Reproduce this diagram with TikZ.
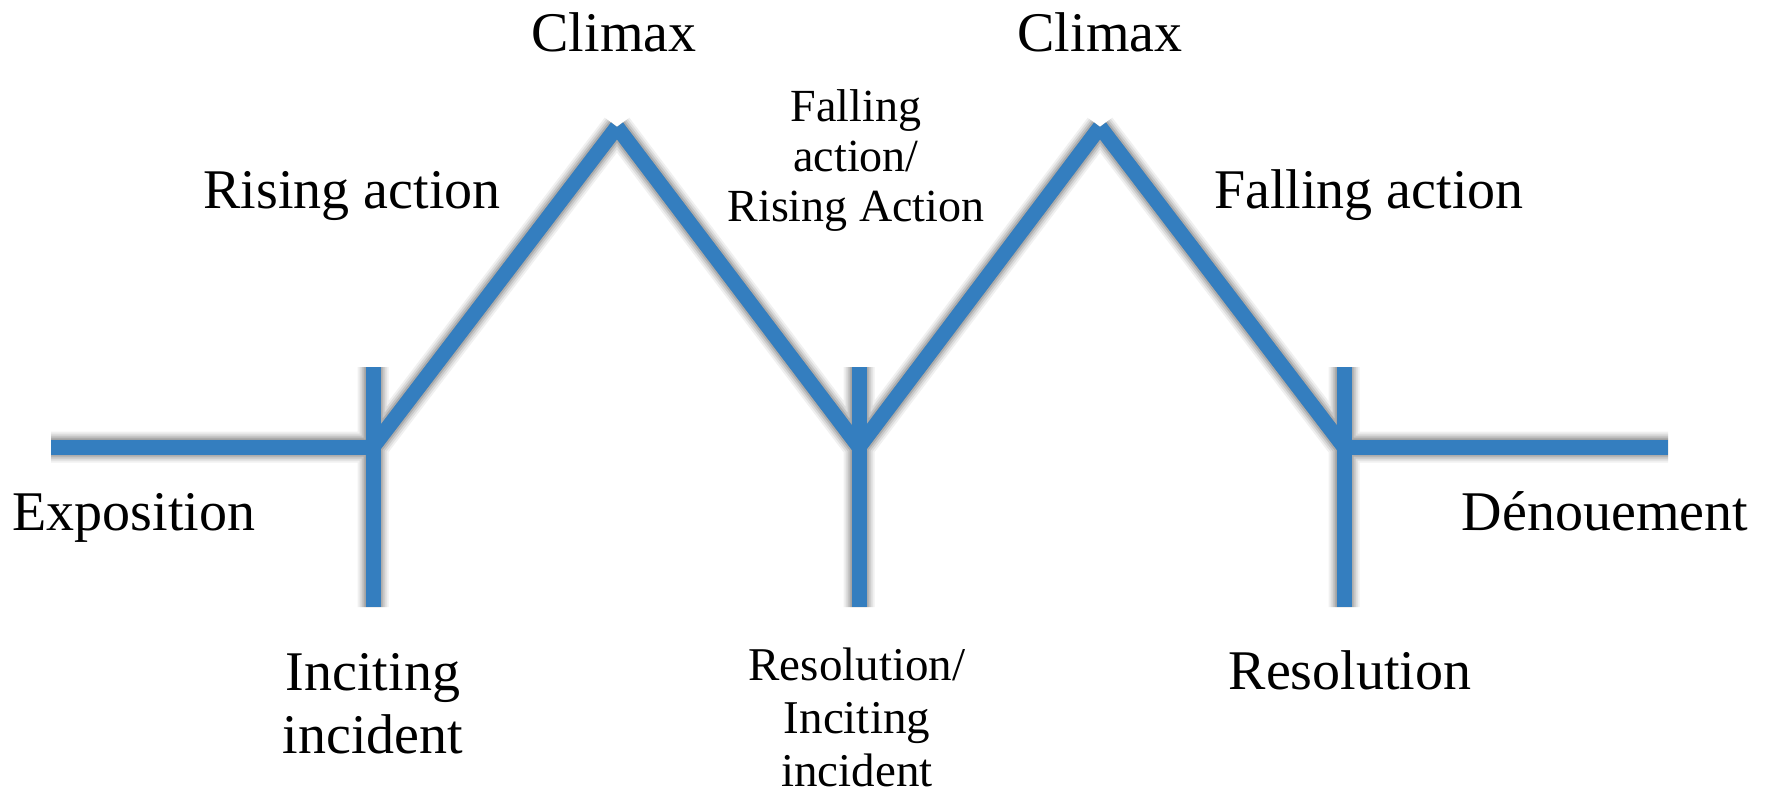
\documentclass[tikz,border=0pt]{standalone}
\usepackage{fontspec}
\setmainfont{Liberation Serif}
\definecolor{arcblue}{RGB}{52,126,191}
\newcommand{\stk}[2]{\vtop{\baselineskip=#1\lineskiplimit=-100pt\lineskip=0pt\halign{\hfil##\hfil\cr#2\crcr}}}
\tikzset{
  arcline/.style={draw=arcblue, line width=15pt, line cap=butt},
  lbl/.style={font=\fontsize{56}{63}\selectfont, inner sep=0pt, anchor=base},
  slbl/.style={font=\fontsize{46}{50}\selectfont, inner sep=0pt, anchor=base},
}
\begin{document}
\begin{tikzpicture}[x=1pt,y=-1pt]
\useasboundingbox (0,0) rectangle (1773,789);
% key points
\coordinate (L)  at (51,447);
\coordinate (T1) at (373,447);
\coordinate (T1t) at (373,367);
\coordinate (T1b) at (373,607);
\coordinate (P1) at (617,127);
\coordinate (T2) at (859,447);
\coordinate (T2t) at (859,367);
\coordinate (T2b) at (859,607);
\coordinate (P2) at (1100,127);
\coordinate (T3) at (1344,447);
\coordinate (T3t) at (1344,367);
\coordinate (T3b) at (1344,607);
\coordinate (R)  at (1668,447);
% soft shadow
\begin{scope}[shift={(3,8)}]
\foreach \w/\o in {31/0.06,27/0.08,23/0.10,19/0.13,15/0.14}{
  \draw[black, opacity=\o, line width=\w pt, line cap=butt]
    (L) -- (T1) (T1t) -- (T1b) (T1) -- (P1) (P1) -- (T2)
    (T2t) -- (T2b) (T2) -- (P2) (P2) -- (T3) (T3t) -- (T3b) (T3) -- (R);
}
\end{scope}
% blue arc
\draw[arcline] (T1t) -- (T1b);
\draw[arcline] (T2t) -- (T2b);
\draw[arcline] (T3t) -- (T3b);
\draw[arcline] (L) -- (T1);
\draw[arcline] (T1) -- (P1);
\draw[arcline] (P1) -- (T2);
\draw[arcline] (T2) -- (P2);
\draw[arcline] (P2) -- (T3);
\draw[arcline] (T3) -- (R);
% labels
\node[lbl] (climaxA) at (614,52) {Climax};
\node[lbl] (climaxB) at (1100,52) {Climax};
\node[lbl] (rising) at (352,208) {Rising action};
\node[lbl] (falling) at (1369,208) {Falling action};
\node[slbl] (midtop) at (856,122) {\stk{50pt}{Falling\cr action/\cr Rising Action}};
\node[lbl] (expo) at (134,530) {Exposition};
\node[lbl] (denou) at (1605,530) {Dénouement};
\node[lbl] (incite) at (373,690) {\stk{63pt}{Inciting\cr incident}};
\node[slbl, font=\fontsize{47}{53}\selectfont] (midbot) at (857,680) {\stk{53pt}{Resolution/\cr Inciting\cr incident}};
\node[lbl] (resol) at (1350,689) {Resolution};
\end{tikzpicture}
\end{document}
